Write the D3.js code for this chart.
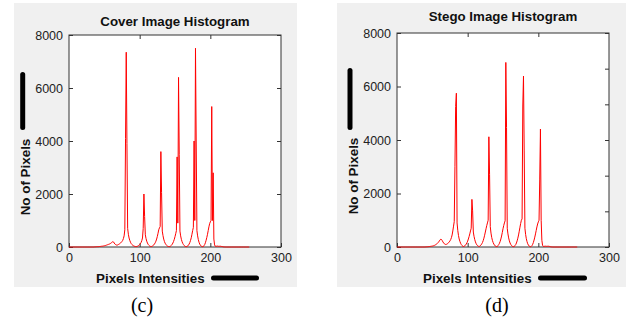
<!DOCTYPE html>
<html>
<head>
<meta charset="utf-8">
<script src="https://cdn.jsdelivr.net/npm/d3@7"></script>
<style>
  html, body { margin: 0; padding: 0; background: #fff; }
  svg { display: block; }
  .tick text { font-family: "Liberation Sans", Arial, sans-serif; font-size: 12.5px; fill: #222; }
  .tick line { stroke: #333; }
</style>
</head>
<body>
<svg id="chart" width="626" height="323"></svg>
<script>
// histogram counts (intensity index starts at *Start, zeros elsewhere)
var coverStart = 36;
var coverCounts = [
    3, 5, 8, 10, 12, 10, 14, 18, 20, 24,
    28, 30, 35, 40, 45, 55, 60, 70, 80, 90,
    100, 110, 120, 140, 160, 185, 200, 190, 150, 110,
    90, 75, 70, 80, 95, 110, 130, 150, 180, 210,
    250, 320, 420, 650, 4100, 7350, 3900, 700, 480, 340,
    250, 180, 130, 95, 70, 50, 35, 25, 18, 15,
    20, 30, 45, 65, 90, 125, 170, 240, 340, 700,
    2000, 1150, 460, 320, 220, 150, 100, 65, 40, 25,
    18, 22, 35, 55, 80, 115, 160, 220, 300, 400,
    520, 650, 720, 770, 3600, 2050, 600, 430, 300, 210,
    145, 100, 65, 40, 25, 18, 15, 22, 40, 65,
    100, 150, 210, 290, 390, 500, 620, 3400, 900, 6400,
    3500, 600, 420, 290, 200, 135, 90, 55, 30, 18,
    14, 20, 40, 70, 110, 170, 250, 350, 480, 620,
    740, 4000, 1000, 7500, 4000, 620, 420, 280, 180, 110,
    65, 35, 18, 12, 20, 45, 90, 160, 250, 360,
    480, 620, 760, 880, 950, 1000, 5300, 1000, 2800, 300,
    80, 30, 25, 30, 35, 30, 25, 28, 30, 25,
    20, 15, 8, 4, 2, 1, 0, 0, 0, 0
];

var stegoStart = 40;
var stegoCounts = [
    2, 4, 6, 8, 10, 14, 18, 22, 26, 30,
    35, 40, 50, 60, 75, 90, 110, 130, 160, 190,
    230, 270, 290, 280, 240, 190, 150, 120, 100, 95,
    100, 115, 135, 160, 190, 230, 280, 350, 450, 600,
    780, 950, 3000, 5250, 5750, 900, 620, 430, 300, 210,
    140, 90, 55, 30, 18, 25, 45, 75, 110, 160,
    220, 300, 390, 490, 600, 700, 1780, 1350, 560, 400,
    280, 190, 125, 80, 50, 30, 20, 28, 50, 80,
    120, 170, 240, 330, 440, 560, 680, 800, 900, 1000,
    4120, 2720, 760, 520, 360, 250, 170, 110, 70, 40,
    22, 16, 25, 50, 90, 140, 210, 300, 410, 540,
    680, 800, 900, 980, 6900, 4470, 700, 490, 340, 230,
    150, 95, 55, 30, 18, 14, 25, 50, 90, 150,
    230, 330, 450, 590, 740, 880, 1000, 1050, 5270, 6390,
    3590, 700, 470, 310, 200, 120, 70, 35, 18, 12,
    22, 50, 100, 170, 260, 370, 490, 620, 750, 860,
    940, 1000, 2540, 4410, 1000, 250, 60, 25, 22, 28,
    30, 28, 25, 28, 30, 25, 20, 12, 6, 3,
    1, 0, 0, 0, 0, 0
];

var xTicks = [0, 100, 200, 300];
var yTicks = [0, 2000, 4000, 6000, 8000];
var titles = ['Cover Image Histogram', 'Stego Image Histogram'];
var captions = ['(c)', '(d)'];

// expand to a full 0..255 histogram
function fullHist(start, counts) {
    var h = [];
    for (var i = 0; i < 256; i++) {
        var k = i - start;
        h.push(k >= 0 && k < counts.length ? counts[k] : 0);
    }
    return h;
}

var panels = [
    {hist: fullHist(coverStart, coverCounts), bg: [14, 3, 283, 284], plot: [69, 35, 281, 247], titleY: 26,
     ylab: 25, vbar: [22.7, 74.5, 127.5], hbar: [213.5, 256.5], xlab: [96, 278], cap: 142, rightTicks: yTicks},
    {hist: fullHist(stegoStart, stegoCounts), bg: [337, 3, 289, 284], plot: [397, 33, 609, 247], titleY: 21,
     ylab: 353, vbar: [350, 70.5, 127.5], hbar: [540.5, 584.5], xlab: [423, 278], cap: 497,
     rightTicks: d3.range(7).map(function(i) { return i * 8000 / 6; })}
];

var svg = d3.select('#chart');

panels.forEach(function(p, n) {
    var g = svg.append('g');
    g.append('rect')
        .attr('x', p.bg[0]).attr('y', p.bg[1])
        .attr('width', p.bg[2]).attr('height', p.bg[3])
        .attr('fill', '#f0f0f0');

    var x = d3.scaleLinear().domain([0, 300]).range([p.plot[0], p.plot[2]]);
    var y = d3.scaleLinear().domain([0, 8000]).range([p.plot[3], p.plot[1]]);

    g.append('rect')
        .attr('x', p.plot[0]).attr('y', p.plot[1])
        .attr('width', p.plot[2] - p.plot[0]).attr('height', p.plot[3] - p.plot[1])
        .attr('fill', '#fff');

    // axes, ticks pointing inward like matlab
    g.append('g').attr('transform', 'translate(' + p.plot[0] + ',0)')
        .call(d3.axisLeft(y).tickValues(yTicks).tickFormat(d3.format('d'))
            .tickSizeInner(-4).tickSizeOuter(0).tickPadding(6));
    g.append('g').attr('transform', 'translate(' + p.plot[2] + ',0)')
        .call(d3.axisRight(y).tickValues(p.rightTicks).tickFormat('').tickSizeInner(-4).tickSizeOuter(0));
    g.append('g').attr('transform', 'translate(0,' + p.plot[3] + ')')
        .call(d3.axisBottom(x).tickValues(xTicks).tickFormat(d3.format('d'))
            .tickSizeInner(-4).tickSizeOuter(0).tickPadding(6));
    g.append('g').attr('transform', 'translate(0,' + p.plot[1] + ')')
        .call(d3.axisTop(x).tickValues([100, 200]).tickFormat('').tickSizeInner(-4).tickSizeOuter(0));
    g.selectAll('.domain').remove();

    g.append('rect')
        .attr('x', p.plot[0]).attr('y', p.plot[1])
        .attr('width', p.plot[2] - p.plot[0]).attr('height', p.plot[3] - p.plot[1])
        .attr('fill', 'none').attr('stroke', '#333').attr('stroke-width', 1);

    var line = d3.line()
        .x(function(d, i) { return x(i); })
        .y(function(d) { return y(d); });
    g.append('path')
        .datum(p.hist)
        .attr('d', line)
        .attr('fill', 'none')
        .attr('stroke', '#ff0000')
        .attr('stroke-width', 1);

    var cx = (p.plot[0] + p.plot[2]) / 2;
    g.append('text')
        .attr('x', cx).attr('y', p.titleY)
        .attr('text-anchor', 'middle')
        .style('font-family', '"Liberation Sans", Arial, sans-serif')
        .style('font-weight', 'bold').style('font-size', '13.3px').style('fill', '#111')
        .text(titles[n]);

    g.append('text')
        .attr('transform', 'translate(' + p.ylab + ',' + ((p.plot[1] + p.plot[3]) / 2 + 36) + ') rotate(-90)')
        .attr('text-anchor', 'middle').attr('dy', '0.36em')
        .style('font-family', '"Liberation Sans", Arial, sans-serif')
        .style('font-weight', 'bold').style('font-size', '13.4px').style('fill', '#111')
        .text('No of Pixels');

    g.append('text')
        .attr('x', p.xlab[0]).attr('y', p.xlab[1]).attr('dy', '0.36em')
        .style('font-family', '"Liberation Sans", Arial, sans-serif')
        .style('font-weight', 'bold').style('font-size', '13.4px').style('fill', '#111')
        .text('Pixels Intensities');

    // black marker strokes
    g.append('line')
        .attr('x1', p.vbar[0]).attr('x2', p.vbar[0])
        .attr('y1', p.vbar[1]).attr('y2', p.vbar[2])
        .attr('stroke', '#000').attr('stroke-width', 5).attr('stroke-linecap', 'round');
    g.append('line')
        .attr('x1', p.hbar[0]).attr('x2', p.hbar[1])
        .attr('y1', p.xlab[1]).attr('y2', p.xlab[1])
        .attr('stroke', '#000').attr('stroke-width', 5).attr('stroke-linecap', 'round');

    svg.append('text')
        .attr('x', p.cap).attr('y', 312)
        .attr('text-anchor', 'middle')
        .style('font-family', '"Liberation Serif", "Times New Roman", serif')
        .style('font-size', '20px').style('fill', '#000')
        .text(captions[n]);
});
</script>
</body>
</html>
